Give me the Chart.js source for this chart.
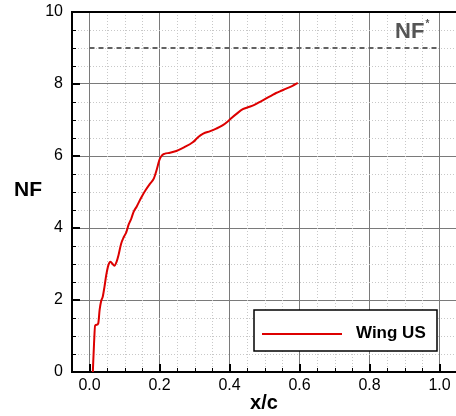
<!DOCTYPE html>
<html>
<head>
<meta charset="utf-8">
<script src="https://cdn.jsdelivr.net/npm/chart.js@4.4.1/dist/chart.umd.min.js"></script>
<style>
html,body{margin:0;padding:0;background:#fff;}
#wrap{width:456px;height:416px;position:relative;}
</style>
</head>
<body>
<div id="wrap"><canvas id="c" width="456" height="416"></canvas></div>
<script>
// ---- data ----
const seriesLabel = "Wing US";
const xc = [0.0095,0.013,0.016,0.021,0.025,0.029,0.033,0.038,0.043,0.048,0.054,0.060,0.066,0.071,0.077,0.083,0.090,0.098,0.105,0.112,0.119,0.126,0.135,0.148,0.160,0.172,0.184,0.192,0.200,0.207,0.214,0.230,0.248,0.270,0.295,0.310,0.325,0.345,0.362,0.380,0.395,0.405,0.420,0.438,0.455,0.471,0.490,0.505,0.520,0.533,0.550,0.562,0.580,0.595];
const nf = [0,0.8,1.29,1.31,1.35,1.73,1.96,2.10,2.38,2.70,2.97,3.06,3.00,2.95,3.05,3.25,3.55,3.75,3.88,4.10,4.25,4.45,4.60,4.85,5.05,5.22,5.38,5.62,5.90,6.02,6.06,6.09,6.14,6.24,6.38,6.52,6.62,6.69,6.76,6.85,6.96,7.05,7.17,7.30,7.36,7.42,7.52,7.60,7.68,7.75,7.82,7.87,7.95,8.03];
const refX = [0, 1.0];
const refY = [9, 9];
const refLabel = "NF";
const xTicks = [0.0,0.2,0.4,0.6,0.8,1.0];
const yTicks = [0,2,4,6,8,10];
const xTitle = "x/c";
const yTitle = "NF";

const FONT = "'Liberation Sans', Arial, Helvetica, sans-serif";

const deco = {
  id: 'deco',
  beforeDatasetsDraw(chart) {
    const {ctx, chartArea: a, scales: {x, y}} = chart;
    ctx.save();
    ctx.strokeStyle = '#c8c8c8';
    ctx.lineWidth = 1;
    ctx.setLineDash([1, 2]);
    for (let i = -1; i <= 22; i++) {
      if (i % 4 === 0) continue;
      const px = Math.round(x.getPixelForValue(i * 0.05)) + 0.5;
      if (px <= a.left + 1 || px >= a.right) continue;
      ctx.beginPath(); ctx.moveTo(px, a.top); ctx.lineTo(px, a.bottom); ctx.stroke();
    }
    for (let j = 1; j < 20; j++) {
      if (j % 4 === 0) continue;
      const py = Math.round(y.getPixelForValue(j * 0.5)) + 0.5;
      ctx.beginPath(); ctx.moveTo(a.left, py); ctx.lineTo(a.right, py); ctx.stroke();
    }
    ctx.restore();
  },
  afterDatasetsDraw(chart) {
    const {ctx, chartArea: a, scales: {x, y}} = chart;
    ctx.save();
    // top border
    ctx.strokeStyle = '#000'; ctx.lineWidth = 2;
    ctx.beginPath(); ctx.moveTo(a.left, a.top); ctx.lineTo(a.right, a.top); ctx.stroke();
    // inward ticks, left axis
    for (let j = 0; j <= 20; j++) {
      const py = y.getPixelForValue(j * 0.5);
      const major = j % 4 === 0;
      ctx.lineWidth = major ? 2 : 1;
      const len = major ? 8 : 4;
      const yy = major ? Math.round(py) : Math.round(py) + 0.5;
      ctx.beginPath(); ctx.moveTo(a.left, yy); ctx.lineTo(a.left + len, yy); ctx.stroke();
    }
    // inward ticks, bottom axis
    for (let i = 0; i <= 20; i++) {
      const px = x.getPixelForValue(i * 0.05);
      const major = i % 4 === 0;
      ctx.lineWidth = major ? 2 : 1;
      const len = major ? 8 : 4;
      const xx = major ? Math.round(px) : Math.round(px) + 0.5;
      ctx.beginPath(); ctx.moveTo(xx, a.bottom); ctx.lineTo(xx, a.bottom - len); ctx.stroke();
    }
    // NF* label
    ctx.fillStyle = '#555';
    const lx = x.getPixelForValue(0.915), ly = y.getPixelForValue(9.44);
    ctx.font = "bold 22px " + FONT;
    ctx.textAlign = 'center'; ctx.textBaseline = 'middle';
    ctx.fillText(refLabel, lx, ly);
    const w = ctx.measureText(refLabel).width;
    ctx.font = "bold 10px " + FONT;
    ctx.textAlign = 'left';
    ctx.fillText("*", lx + w / 2 + 1, ly - 8);
    // legend box
    const bx = a.left + 182, by = a.bottom - 62, bw = 183, bh = 41;
    ctx.fillStyle = '#fff';
    ctx.fillRect(bx, by, bw, bh);
    ctx.strokeStyle = '#000'; ctx.lineWidth = 1.5;
    ctx.strokeRect(bx, by, bw, bh);
    ctx.strokeStyle = '#dd0000'; ctx.lineWidth = 2;
    ctx.beginPath(); ctx.moveTo(bx + 8, by + 24); ctx.lineTo(bx + 88, by + 24); ctx.stroke();
    ctx.fillStyle = '#000';
    ctx.font = "bold 17px " + FONT;
    ctx.textAlign = 'left'; ctx.textBaseline = 'middle';
    ctx.fillText(seriesLabel, bx + 102, by + 23);
    // axis titles
    ctx.font = "bold 20px " + FONT;
    ctx.textAlign = 'center';
    ctx.fillText(xTitle, (a.left + a.right) / 2, 403);
    ctx.font = "bold 21px " + FONT;
    ctx.fillText(yTitle, 28, (a.top + a.bottom) / 2 - 2);
    ctx.restore();
  }
};

new Chart(document.getElementById('c'), {
  type: 'scatter',
  data: {
    datasets: [
      {
        label: seriesLabel,
        data: xc.map((v, i) => ({x: v, y: nf[i]})),
        showLine: true,
        borderColor: '#dd0000',
        borderWidth: 2,
        pointRadius: 0,
        cubicInterpolationMode: 'monotone',
        fill: false
      },
      {
        label: refLabel,
        data: refX.map((v, i) => ({x: v, y: refY[i]})),
        showLine: true,
        borderColor: '#626262',
        borderWidth: 2,
        borderDash: [5, 4],
        pointRadius: 0,
        fill: false
      }
    ]
  },
  options: {
    responsive: false,
    animation: false,
    layout: {padding: {top: 12, right: 0, left: 0, bottom: 0}},
    plugins: {legend: {display: false}, tooltip: {enabled: false}, title: {display: false}},
    scales: {
      x: {
        type: 'linear',
        min: -0.05,
        max: 1.0471,
        afterBuildTicks: s => { s.ticks = xTicks.map(v => ({value: v})); },
        afterFit: s => { s.height = 44; s.paddingLeft = 0; s.paddingRight = 0; },
        ticks: {
          callback: v => v.toFixed(1),
          font: {family: FONT, size: 16},
          color: '#000',
          padding: 4,
          maxRotation: 0,
          autoSkip: false
        },
        grid: {color: '#7a7a7a', lineWidth: 1, drawTicks: false},
        border: {display: true, color: '#000', width: 2}
      },
      y: {
        type: 'linear',
        min: 0,
        max: 10,
        afterBuildTicks: s => { s.ticks = yTicks.map(v => ({value: v})); },
        afterFit: s => { s.width = 72; s.paddingTop = 0; s.paddingBottom = 0; },
        ticks: {
          callback: v => String(v),
          font: {family: FONT, size: 16},
          color: '#000',
          padding: 9,
          autoSkip: false
        },
        grid: {color: '#7a7a7a', lineWidth: 1, drawTicks: false},
        border: {display: true, color: '#000', width: 2}
      }
    }
  },
  plugins: [deco]
});
</script>
</body>
</html>
